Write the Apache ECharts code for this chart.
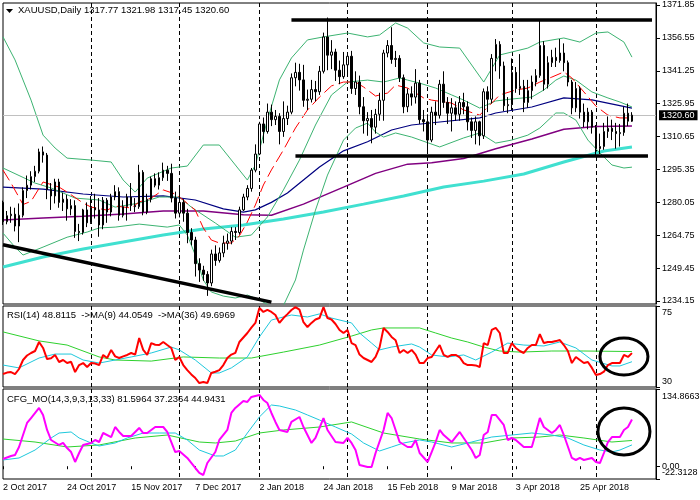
<!DOCTYPE html>
<html><head><meta charset="utf-8">
<script src="https://cdn.jsdelivr.net/npm/echarts@6/dist/echarts.min.js"></script>
<style>html,body{margin:0;padding:0;background:#fff}#c{width:700px;height:500px}</style>
</head><body><div id="c"></div>
<script>
const FONT = 'Liberation Sans';
const symbolTitle = 'XAUUSD,Daily 1317.77 1321.98 1317.45 1320.60';
const rsiTitle = 'RSI(14) 48.8115  ->MA(9) 44.0549  ->MA(36) 49.6969';
const cfgTitle = 'CFG_MO(14,3,9,3,13,33) 81.5964 37.2364 44.9431';
const lastPrice = 1320.60;
const priceTicks = [1234.15,1249.45,1264.75,1280.05,1295.35,1310.65,1325.95,1341.25,1356.55,1371.85];
const rsiTicks = [30, 75];
const cfgTicks = [-22.3128, 0, 134.8663];
const holidays = ['2017-12-25','2018-01-01','2018-03-30'];

// [open, high, low, close]
const ohlc = [
[1280.0,1280.8,1269.5,1271.0],[1271.0,1276.0,1269.8,1273.8],[1273.8,1278.0,1270.5,1274.5],[1274.5,1277.5,1266.5,1269.0],[1269.0,1279.5,1261.5,1274.0],
[1274.0,1287.0,1273.0,1285.5],[1285.5,1292.5,1282.0,1288.0],[1288.0,1294.5,1286.0,1292.0],[1292.0,1297.0,1289.5,1294.5],[1294.5,1305.0,1293.5,1303.5],
[1303.5,1306.0,1298.5,1302.0],[1302.0,1303.0,1281.5,1286.0],[1286.0,1289.0,1276.5,1283.0],[1283.0,1291.0,1279.5,1289.5],[1289.5,1291.0,1277.5,1280.0],
[1280.0,1284.5,1276.0,1281.5],[1281.5,1283.5,1271.5,1277.0],[1277.0,1281.5,1274.0,1278.5],[1278.5,1281.0,1263.5,1266.5],[1266.5,1270.0,1262.0,1266.0],
[1266.0,1277.0,1265.0,1276.5],[1276.5,1280.0,1268.5,1270.5],[1270.5,1283.0,1270.0,1277.5],[1277.5,1284.0,1272.5,1276.5],[1276.5,1282.0,1264.0,1269.5],
[1269.5,1282.5,1267.5,1281.0],[1281.0,1282.0,1270.5,1275.5],[1275.5,1284.0,1273.5,1282.5],[1282.5,1288.0,1281.0,1285.0],[1285.0,1287.0,1271.5,1274.0],
[1274.0,1281.0,1273.0,1278.0],[1278.0,1284.0,1271.5,1282.5],[1282.5,1289.0,1276.0,1278.5],[1278.5,1282.0,1275.5,1278.0],[1278.0,1297.5,1277.0,1294.0],
[1294.0,1295.0,1274.0,1275.5],[1275.5,1284.0,1274.5,1281.5],[1281.5,1292.0,1280.0,1291.0],[1291.0,1293.5,1287.0,1288.0],[1288.0,1294.0,1286.0,1291.5],
[1291.5,1298.5,1290.0,1295.0],[1295.0,1297.0,1290.0,1293.5],[1293.5,1298.0,1280.0,1282.0],[1282.0,1285.0,1272.5,1275.0],[1275.0,1287.0,1273.0,1280.0],
[1280.0,1281.5,1271.0,1275.0],[1275.0,1277.0,1261.0,1266.0],[1266.0,1268.0,1260.0,1262.5],[1262.5,1264.0,1245.5,1251.5],[1251.5,1254.0,1243.0,1248.5],
[1248.5,1250.5,1243.5,1246.5],[1246.5,1248.0,1236.5,1242.5],[1242.5,1258.0,1241.0,1256.0],[1256.0,1260.0,1250.5,1253.0],[1253.0,1259.0,1252.0,1256.5],
[1256.5,1264.5,1254.5,1261.0],[1261.0,1265.5,1258.0,1262.0],[1262.0,1268.5,1260.5,1266.5],[1266.5,1268.5,1262.5,1266.0],[1266.0,1278.0,1265.0,1276.5],
[1276.5,1284.0,1276.0,1282.5],[1282.5,1288.0,1281.0,1286.5],[1286.5,1296.0,1285.0,1295.0],[1295.0,1307.0,1294.0,1302.5],[1302.5,1317.5,1302.0,1316.5],
[1316.5,1319.5,1307.5,1313.0],[1313.0,1326.0,1312.0,1322.0],[1322.0,1325.5,1315.5,1318.5],[1318.5,1323.0,1316.0,1320.0],[1320.0,1321.5,1307.0,1313.0],
[1313.0,1327.0,1310.5,1319.0],[1319.0,1325.0,1316.0,1322.0],[1322.0,1340.0,1321.0,1338.0],[1338.0,1345.0,1334.0,1340.5],[1340.5,1344.5,1332.0,1337.0],
[1337.0,1344.0,1324.5,1327.5],[1327.5,1332.5,1323.0,1328.0],[1328.0,1337.0,1326.5,1332.5],[1332.5,1336.5,1327.0,1331.5],[1331.5,1343.5,1330.0,1341.0],
[1341.0,1359.0,1340.0,1357.0],[1357.0,1366.0,1341.5,1348.5],[1348.5,1355.5,1342.0,1350.0],[1350.0,1351.5,1336.5,1341.5],[1341.5,1346.0,1335.0,1338.5],
[1338.5,1350.0,1337.5,1344.0],[1344.0,1349.5,1339.0,1348.0],[1348.0,1350.5,1330.5,1333.0],[1333.0,1341.0,1330.0,1336.0],[1336.0,1339.0,1321.0,1324.5],
[1324.5,1329.0,1312.0,1318.0],[1318.0,1322.0,1311.0,1319.0],[1319.0,1323.0,1307.5,1315.0],[1315.0,1323.5,1312.0,1321.0],[1321.0,1331.0,1318.0,1327.5],
[1327.5,1351.0,1318.0,1349.5],[1349.5,1355.5,1347.5,1353.0],[1353.0,1361.5,1344.5,1346.5],[1346.5,1350.5,1343.0,1347.0],[1347.0,1348.5,1336.0,1338.0],
[1338.0,1339.5,1321.5,1324.5],[1324.5,1333.0,1322.0,1330.5],[1330.5,1334.0,1325.0,1329.0],[1329.0,1342.0,1326.0,1335.5],[1335.5,1337.0,1316.5,1318.5],
[1318.5,1323.0,1313.0,1317.5],[1317.5,1321.0,1303.0,1309.0],[1309.0,1324.5,1308.0,1322.0],[1322.0,1327.0,1316.0,1320.5],[1320.5,1337.0,1319.0,1335.0],
[1335.0,1341.0,1324.0,1326.5],[1326.5,1329.0,1316.5,1321.5],[1321.5,1328.5,1313.0,1324.0],[1324.0,1327.0,1318.0,1321.0],[1321.0,1329.5,1318.0,1326.5],
[1326.5,1331.0,1321.0,1324.5],[1324.5,1327.0,1313.5,1317.5],[1317.5,1319.5,1310.0,1313.5],[1313.5,1320.0,1307.0,1317.5],[1317.5,1318.0,1306.5,1311.0],
[1311.0,1333.0,1309.5,1331.5],[1331.5,1334.0,1322.0,1328.0],[1328.0,1349.0,1326.0,1347.0],[1347.0,1356.0,1341.0,1353.5],[1353.5,1355.0,1337.5,1343.5],
[1343.5,1345.5,1322.5,1325.0],[1325.0,1329.0,1321.5,1325.5],[1325.5,1347.0,1323.0,1340.5],[1340.5,1343.0,1331.0,1333.0],[1333.0,1349.0,1330.0,1334.0],
[1334.0,1337.0,1322.0,1326.5],[1326.5,1337.0,1324.0,1332.0],[1332.0,1339.0,1328.0,1336.0],[1336.0,1342.0,1334.0,1339.0],[1339.0,1365.0,1338.0,1353.0],
[1353.0,1355.0,1332.0,1335.0],[1335.0,1348.0,1333.0,1345.0],[1345.0,1351.0,1343.0,1347.5],[1347.5,1352.0,1343.0,1346.0],[1346.0,1356.0,1345.0,1349.5],
[1349.5,1354.0,1341.0,1345.0],[1345.0,1346.0,1334.0,1336.0],[1336.0,1337.0,1321.0,1324.0],[1324.0,1336.0,1322.0,1333.0],[1333.0,1334.0,1319.0,1322.0],
[1322.0,1326.0,1315.0,1317.5],[1317.5,1324.0,1314.0,1322.0],[1322.0,1323.0,1312.0,1315.0],[1315.0,1316.0,1302.0,1305.0],[1305.0,1312.0,1302.5,1306.0],
[1306.0,1317.0,1304.5,1313.0],[1313.0,1320.0,1310.0,1314.5],[1314.5,1318.5,1309.0,1313.0],[1313.0,1317.0,1305.0,1312.0],[1312.0,1316.5,1306.0,1312.5],
[1312.5,1324.5,1311.0,1321.5],[1321.5,1326.0,1315.5,1317.8],[1317.77,1321.98,1317.45,1320.60]
];

// main-window indicator lines: [bar index, price]
const bbUpper = [[0,1357.0],[3,1346.3],[7,1327.6],[10,1311.3],[13,1305.3],[16,1300.6],[22,1299.7],[27,1298.8],[30,1290.4],[33,1284.8],[36,1291.3],[42,1296.0],[46,1296.9],[50,1306.7],[54,1306.7],[58,1297.4],[61,1290.4],[63,1297.4],[66,1318.3],[69,1337.0],[72,1347.2],[76,1355.6],[80,1357.0],[86,1358.8],[91,1357.0],[94,1357.9],[98,1363.5],[101,1361.1],[105,1354.2],[109,1352.3],[114,1351.8],[120,1336.0],[124,1348.6],[131,1351.8],[134,1354.6],[140,1356.5],[144,1354.6],[148,1358.8],[151,1359.3],[155,1354.6],[157,1347.6]];
const bbMiddle = [[0,1296.0],[8,1289.0],[12,1286.7],[18,1282.0],[24,1281.1],[28,1277.8],[34,1279.7],[39,1282.5],[44,1282.5],[47,1277.8],[53,1270.4],[58,1263.8],[62,1264.8],[66,1273.2],[70,1285.8],[74,1299.7],[78,1316.0],[82,1330.0],[86,1336.0],[91,1336.9],[95,1336.0],[99,1337.9],[101,1336.9],[104,1335.5],[108,1333.2],[112,1330.0],[115,1327.6],[119,1323.9],[123,1327.2],[127,1328.1],[132,1329.0],[135,1332.3],[138,1336.9],[140,1338.8],[143,1336.9],[147,1331.4],[151,1328.6],[154,1326.7],[157,1324.4]];
const bbLower = [[0,1265.7],[3,1259.2],[5,1255.5],[10,1259.2],[16,1263.8],[21,1266.2],[24,1268.1],[28,1268.5],[34,1269.9],[41,1268.5],[44,1269.5],[46,1264.8],[48,1255.5],[50,1243.9],[52,1238.3],[55,1236.4],[58,1235.5],[61,1236.9],[64,1234.6],[67,1231.5],[70,1232.0],[73,1243.9],[75,1257.8],[78,1276.4],[81,1292.7],[85,1309.0],[88,1314.6],[91,1316.9],[93,1312.7],[95,1310.4],[98,1312.3],[102,1310.4],[109,1305.8],[115,1310.0],[119,1312.3],[123,1307.6],[127,1309.0],[131,1311.3],[134,1314.6],[138,1321.6],[140,1321.6],[143,1318.3],[146,1309.0],[149,1303.0],[152,1297.4],[155,1296.0],[157,1296.4]];
const maRed = [[0,1295.0],[2,1289.0],[5,1279.0],[7,1280.5],[10,1289.5],[14,1287.1],[16,1284.8],[20,1279.7],[22,1277.8],[26,1276.4],[28,1278.3],[32,1277.4],[34,1280.2],[37,1282.0],[40,1285.8],[43,1283.9],[45,1281.1],[48,1276.4],[50,1268.1],[52,1262.5],[54,1261.1],[57,1261.1],[59,1264.4],[61,1270.9],[63,1278.8],[65,1288.1],[67,1295.1],[70,1304.4],[73,1314.6],[76,1323.0],[79,1329.0],[82,1334.2],[85,1336.0],[88,1336.0],[90,1333.7],[93,1329.5],[96,1330.9],[98,1334.6],[101,1333.2],[105,1328.6],[107,1327.6],[112,1326.2],[115,1323.0],[119,1320.6],[121,1324.4],[124,1330.0],[128,1332.3],[131,1333.2],[134,1336.0],[137,1338.3],[140,1340.7],[142,1337.9],[145,1331.4],[148,1324.8],[151,1320.6],[154,1319.3],[157,1319.3]];
const maNavy = [[0,1287.1],[10,1286.2],[20,1283.9],[30,1282.5],[40,1283.0],[48,1281.1],[55,1277.0],[60,1275.5],[63,1276.5],[67,1280.0],[71,1284.4],[79,1296.5],[85,1304.0],[91,1308.2],[97,1313.7],[102,1316.0],[109,1317.4],[119,1319.3],[123,1321.6],[132,1324.4],[140,1328.6],[147,1327.7],[157,1323.9]];
const maPurple = [[0,1271.8],[10,1272.7],[20,1273.6],[30,1274.6],[40,1276.0],[50,1276.0],[60,1274.2],[67,1274.0],[75,1279.2],[85,1287.1],[93,1293.5],[101,1297.8],[107,1298.5],[115,1300.4],[123,1305.0],[132,1309.5],[140,1314.0],[148,1315.3],[157,1315.5]];
const maTurquoise = [[0,1249.9],[10,1254.6],[20,1258.3],[30,1261.6],[40,1264.8],[50,1267.6],[60,1269.5],[70,1272.3],[80,1275.5],[90,1279.2],[100,1283.0],[110,1287.2],[120,1289.9],[130,1293.2],[140,1298.8],[150,1303.9],[157,1305.8]];
const trendLines = [
  [[0,1260.3],[67,1233.6]],
  [[72,1364.9],[162,1364.9]],
  [[73,1301.6],[161,1301.6]]
];

// RSI window
const rsi = [37.2,38.0,38.3,37.2,40.0,45.0,47.5,48.9,50.0,55.0,
51.7,45.5,46.0,47.8,43.9,45.0,43.3,44.0,38.3,42.2,
43.3,41.1,43.3,43.0,42.2,47.8,46.1,50.6,47.0,46.1,
47.0,47.8,48.9,48.0,57.2,50.6,47.8,54.4,53.5,53.3,
55.0,53.3,51.7,45.0,46.7,42.2,39.4,37.0,35.0,32.2,
32.8,32.2,37.8,38.5,39.4,42.2,46.1,48.0,49.0,55.0,
57.5,60.0,63.0,65.6,73.9,71.7,72.8,71.7,70.0,65.6,
68.3,70.5,72.8,74.4,73.0,66.0,63.3,65.6,67.5,68.3,
74.4,68.3,67.5,65.0,61.7,60.0,61.7,54.4,53.3,48.0,
46.1,45.0,43.9,46.7,52.0,62.8,60.6,57.8,56.0,48.9,
50.6,48.9,50.6,48.0,43.3,43.3,46.1,46.7,50.0,53.3,
47.8,46.7,47.8,47.8,46.5,43.3,42.2,42.2,42.0,41.1,
54.4,53.3,61.7,62.8,60.0,48.9,48.9,54.4,51.7,50.0,
48.9,51.7,53.3,53.3,59.4,54.4,55.0,55.0,55.5,56.1,
53.3,50.0,43.3,46.7,45.0,43.3,43.9,40.6,36.7,37.2,
38.5,42.2,43.3,43.3,43.3,47.8,46.7,48.81];
const rsiMa9 = [[0,42.2],[4,40.6],[9,46.1],[13,48.3],[17,48.3],[20,45.0],[24,43.3],[28,45.0],[32,46.7],[37,48.9],[42,52.2],[44,50.6],[48,45.0],[52,37.8],[54,37.8],[57,40.6],[61,46.7],[64,57.8],[67,67.2],[70,68.9],[72,70.0],[76,68.9],[79,70.6],[82,68.3],[87,65.6],[89,60.0],[92,54.4],[94,50.6],[97,52.2],[102,53.9],[104,52.2],[107,47.8],[111,46.7],[115,47.8],[118,45.0],[122,49.4],[126,54.4],[130,53.3],[135,52.8],[139,55.0],[143,51.7],[147,45.0],[152,41.7],[154,41.7],[157,44.05]];
const rsiMa36 = [[0,60.6],[9,55.6],[16,53.3],[24,46.7],[28,45.0],[37,44.4],[45,46.7],[54,46.1],[62,46.1],[70,49.4],[79,53.3],[87,58.3],[92,61.7],[95,62.8],[104,62.8],[108,60.0],[112,57.2],[116,55.0],[120,52.2],[124,50.0],[129,49.4],[137,50.0],[145,50.0],[157,49.7]];

// CFG_MO window
const cfgMain = [[0,12.6],[2,17.9],[3,19.6],[4,33.6],[6,75.5],[7,84.2],[9,101.7],[10,89.5],[11,63.3],[12,45.8],[14,37.1],[15,40.6],[16,31.8],[17,24.8],[18,7.4],[19,23.1],[20,37.1],[22,40.6],[23,45.8],[24,42.3],[25,58.0],[27,51.0],[28,68.5],[29,59.8],[30,52.8],[32,52.8],[34,66.8],[35,58.0],[36,58.0],[38,68.5],[40,68.5],[41,59.8],[43,24.8],[44,26.6],[46,14.4],[48,-3.1],[49,-11.8],[50,-15.3],[51,5.6],[53,24.8],[54,45.8],[56,63.3],[57,93.0],[58,101.7],[60,113.9],[61,112.2],[62,120.9],[64,124.4],[65,115.7],[66,110.4],[67,93.0],[68,77.3],[69,63.3],[71,59.8],[72,77.3],[74,86.0],[75,68.5],[77,40.6],[78,49.3],[80,84.2],[81,63.3],[83,42.3],[85,40.6],[86,49.3],[87,40.6],[88,28.3],[89,2.1],[91,-1.3],[92,-1.3],[93,23.1],[95,63.3],[96,93.0],[97,84.2],[99,42.3],[101,33.6],[102,33.6],[103,45.8],[104,23.1],[106,7.4],[107,24.8],[108,42.3],[109,63.3],[110,54.5],[112,42.3],[114,59.8],[115,49.3],[117,28.3],[118,14.4],[119,19.6],[120,54.5],[121,59.8],[122,89.5],[123,89.5],[125,72.0],[126,45.8],[127,49.3],[128,45.8],[130,33.6],[132,33.6],[133,58.0],[134,84.2],[135,68.5],[137,58.0],[138,63.3],[139,72.0],[140,54.5],[142,14.4],[143,10.9],[144,14.4],[145,10.9],[147,14.4],[148,7.4],[149,5.6],[150,23.1],[151,42.3],[152,51.0],[154,51.0],[155,63.3],[156,68.5],[157,81.5964]];
const cfgSignal = [[0,10.9],[4,14.4],[8,28.3],[12,49.3],[14,58.0],[17,59.8],[19,49.3],[22,40.6],[24,35.3],[28,40.6],[31,49.3],[35,58.0],[39,58.0],[43,58.0],[46,45.8],[49,28.3],[53,17.9],[55,17.9],[58,28.3],[61,58.0],[64,86.0],[67,106.9],[69,105.2],[73,98.2],[76,89.5],[79,80.7],[83,68.5],[87,56.3],[90,40.6],[94,26.6],[97,33.6],[100,40.6],[104,45.8],[107,42.3],[112,33.6],[117,42.3],[122,51.0],[127,54.5],[132,58.0],[137,54.5],[141,49.3],[145,37.1],[149,28.3],[152,24.8],[154,28.3],[157,37.2364]];
const cfgSlow = [[0,47.5],[8,42.3],[16,33.6],[24,37.1],[33,49.3],[41,54.5],[49,42.3],[53,40.6],[58,44.0],[64,58.0],[70,63.3],[79,68.5],[87,77.3],[95,58.0],[104,47.5],[112,40.6],[120,40.6],[127,49.3],[134,51.0],[139,54.5],[145,49.3],[152,42.3],[157,44.9431]];

// hand-drawn ellipses: centre in data coords of their window
const marks = [
  {grid: 1, at: [155, 46.9], rx: 24, ry: 18.5},
  {grid: 2, at: [155, 60.6], rx: 26, ry: 23.5}
];

// trading-day categories
const MONTHS = ['Jan','Feb','Mar','Apr','May','Jun','Jul','Aug','Sep','Oct','Nov','Dec'];
const dates = [], monthOf = [];
let d = new Date(Date.UTC(2017, 9, 2));
while (dates.length < ohlc.length) {
  const wd = d.getUTCDay(), iso = d.toISOString().slice(0, 10);
  if (wd !== 0 && wd !== 6 && holidays.indexOf(iso) < 0) {
    dates.push(d.getUTCDate() + ' ' + MONTHS[d.getUTCMonth()] + ' ' + d.getUTCFullYear());
    monthOf.push(d.getUTCMonth());
  }
  d = new Date(d.getTime() + 86400000);
}
const SLOTS = 164;
const cats = dates.slice();
while (cats.length < SLOTS) cats.push('');
const monthStarts = new Set();
for (let i = 1; i < monthOf.length; i++) if (monthOf[i] !== monthOf[i - 1]) monthStarts.add(i);

const labelStyle = {color: '#000', fontFamily: FONT, fontSize: 9};
function xAx(gi, bottom) {
  const every = (i) => i % 16 === 0 && i < dates.length;
  return {
    type: 'category', gridIndex: gi, data: cats, boundaryGap: false,
    axisLine: {show: false},
    axisTick: {show: bottom, interval: every, length: 3, lineStyle: {color: '#000'}},
    axisLabel: Object.assign({show: bottom, interval: every, align: 'left', margin: 4}, labelStyle),
    splitLine: {show: true, interval: (i) => monthStarts.has(i), lineStyle: {color: '#000', type: [4, 3], width: 1}}
  };
}
const near = (a, b) => Math.abs(a - b) < 1e-6;
const gridBase = {left: 3, width: 653, show: true, borderColor: '#000', borderWidth: 1, backgroundColor: '#fff', containLabel: false, outerBoundsMode: 'none'};
function line(data, xi, color, width, z, extra) {
  return Object.assign({type: 'line', xAxisIndex: xi, yAxisIndex: xi, data: data, showSymbol: false, symbol: 'none',
    silent: true, animation: false, z: z, lineStyle: {color: color, width: width}}, extra || {});
}
function sideAxis(gi, min, max, tickVals, labelVals, fmt, rich, showLine) {
  return {type: 'value', gridIndex: gi, position: 'right', min: min, max: max,
    axisLine: {show: showLine, lineStyle: {color: '#000'}},
    axisTick: {show: true, customValues: tickVals, length: 4, lineStyle: {color: '#000'}},
    axisLabel: Object.assign({customValues: labelVals, formatter: fmt, margin: 6, showMinLabel: true, showMaxLabel: true, hideOverlap: false, rich: rich}, labelStyle),
    splitLine: {show: false}};
}

const chart = echarts.init(document.getElementById('c'), null, {renderer: 'canvas'});
const titleText = {fontFamily: FONT, fontSize: 9.5, fontWeight: 'normal', color: '#000', lineHeight: 11};
const option = {
  backgroundColor: '#fff',
  animation: false,
  title: [
    {text: symbolTitle, left: 18, top: 5, padding: 0, textStyle: titleText},
    {text: rsiTitle, left: 7, top: 309.5, padding: 0, textStyle: titleText},
    {text: cfgTitle, left: 7, top: 393.5, padding: 0, textStyle: titleText}
  ],
  grid: [
    Object.assign({top: 3, height: 301}, gridBase),
    Object.assign({top: 306, height: 81}, gridBase),
    Object.assign({top: 389, height: 90}, gridBase)
  ],
  xAxis: [xAx(0, false), xAx(1, false), xAx(2, true)],
  yAxis: [
    sideAxis(0, 1232.72, 1372.78, priceTicks, priceTicks, (v) => v.toFixed(2), {}, true),
    sideAxis(1, rsiTicks[0], rsiTicks[1], rsiTicks, rsiTicks,
      (v) => v > 50 ? '{t|' + v + '}' : '{b|' + v + '}',
      {t: Object.assign({padding: [14, 0, 0, 0]}, labelStyle), b: Object.assign({padding: [0, 0, 10, 0]}, labelStyle)}, true),
    sideAxis(2, cfgTicks[0], cfgTicks[2], cfgTicks, [cfgTicks[0], cfgTicks[2]],
      (v) => near(v, cfgTicks[2]) ? '{t|' + cfgTicks[2].toFixed(4) + '}' : '{b|' + cfgTicks[0].toFixed(4) + '}',
      {t: Object.assign({padding: [16, 0, 0, 0]}, labelStyle), b: Object.assign({padding: [0, 0, 12, 0]}, labelStyle)}, true),
    sideAxis(2, cfgTicks[0], cfgTicks[2], [cfgTicks[1]], [cfgTicks[1]], (v) => v.toFixed(2), {}, false)
  ],
  series: [
    line(maTurquoise, 0, '#40E0D0', 3, 2),
    line(maPurple, 0, '#800080', 1.5, 2),
    line(maNavy, 0, '#000080', 1.2, 2),
    line(bbUpper, 0, '#3CB371', 1, 2),
    line(bbMiddle, 0, '#3CB371', 1, 2),
    line(bbLower, 0, '#3CB371', 1, 2),
    line(maRed, 0, '#FF0000', 1, 2, {lineStyle: {color: '#FF0000', width: 1, type: [12, 5]}}),
    {type: 'candlestick', xAxisIndex: 0, yAxisIndex: 0, barWidth: 2, clip: false, z: 5, silent: true, animation: false,
      data: ohlc.map((r) => [r[0], r[3], r[2], r[1]]),
      itemStyle: {color: '#fff', color0: '#000', borderColor: '#000', borderColor0: '#000', borderWidth: 1},
      markLine: {silent: true, symbol: ['none', 'none'], animation: false, data: [{yAxis: lastPrice}],
        lineStyle: {color: '#c0c0c0', width: 1, type: 'solid'},
        label: {show: true, position: 'end', distance: 3, formatter: () => lastPrice.toFixed(2), color: '#fff', backgroundColor: '#000',
          padding: [1, 3, 0, 3], fontFamily: FONT, fontSize: 9}}},
    ...trendLines.map((t) => line(t, 0, '#000', 3.5, 6)),
    line(rsiMa36, 1, '#2ED12E', 1, 2),
    line(rsiMa9, 1, '#1EC8DC', 1, 2),
    line(rsi.map((v, i) => [i, v]), 1, '#FF0000', 2, 3),
    line(cfgSlow, 2, '#2ED12E', 1, 2),
    line(cfgSignal, 2, '#1EC8DC', 1, 2),
    line(cfgMain, 2, '#FF00FF', 2, 3)
  ],
  graphic: [
    {type: 'polygon', shape: {points: [[6, 9], [13, 9], [9.5, 13]]}, style: {fill: '#000'}, silent: true}
  ]
};
chart.setOption(option);

const g = [option.graphic[0]];
marks.forEach((m) => {
  const p = chart.convertToPixel({xAxisIndex: m.grid, yAxisIndex: m.grid}, m.at);
  g.push({type: 'ellipse', shape: {cx: p[0], cy: p[1], rx: m.rx, ry: m.ry}, style: {fill: 'none', stroke: '#000', lineWidth: 3}, z: 100, silent: true});
});
chart.setOption({graphic: g});
</script>
</body></html>
